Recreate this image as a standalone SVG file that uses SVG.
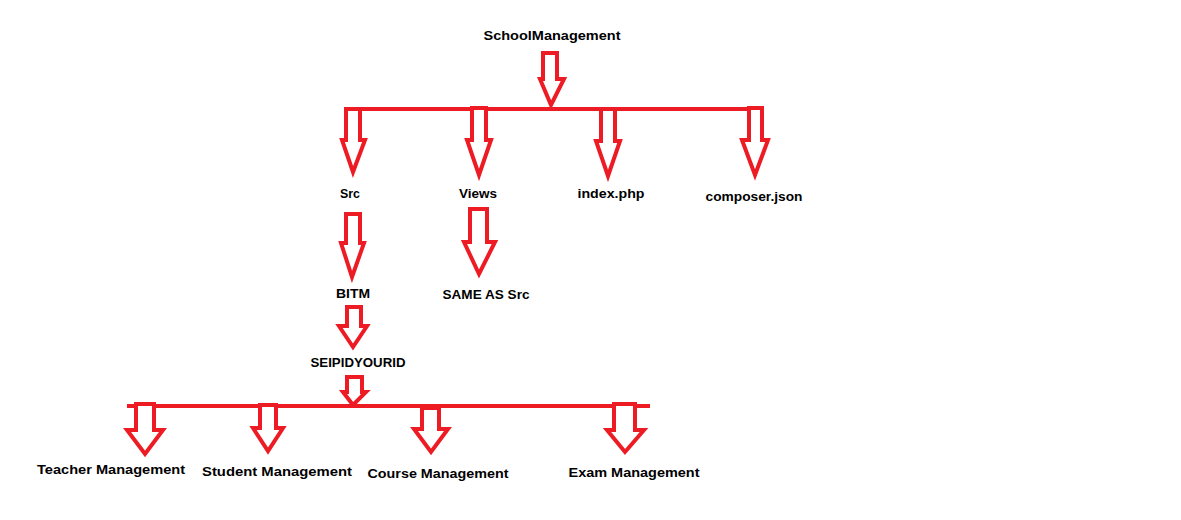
<svg xmlns="http://www.w3.org/2000/svg" width="1181" height="520" viewBox="0 0 1181 520">
<style>
.a{fill:#fff;stroke:#ED1C24;stroke-width:4;stroke-linejoin:miter}
.b{stroke:#ED1C24;stroke-width:4;fill:none}
text{font-family:"Liberation Sans",Arial,sans-serif;font-weight:bold;font-size:13.5px;fill:#000;text-anchor:middle}
</style>
<rect width="1181" height="520" fill="#fff"/>
<g id="connectors">
<line class="b" x1="345" y1="109" x2="762" y2="109"/>
<polygon class="a" points="543,53 557,53 557,79 564,79 551,105 540,79 543,79"/>
<polygon class="a" points="346,109 360,109 360,140 365,140 353,172 342,140 346,140"/>
<polygon class="a" points="472,108 486,108 486,140 491,140 479,175 467,140 472,140"/>
<polygon class="a" points="601,109 615,109 615,141 620,141 608,176 596,141 601,141"/>
<polygon class="a" points="749,108 762,108 762,140 768,140 755,175 742,140 749,140"/>
<polygon class="a" points="346,214 360,214 360,243 364,243 352,277 341,243 346,243"/>
<polygon class="a" points="470,209 487,209 487,242 495,242 479,274 464,242 470,242"/>
<polygon class="a" points="347,307 361,307 361,326 367,326 353,347 339,326 347,326"/>
<line class="b" x1="127" y1="406" x2="650" y2="406"/>
<polygon class="a" points="347,377 362,377 362,392 366,392 353,405 343,392 347,392"/>
<polygon class="a" points="136,404 154,404 154,430 163,430 145,454 127,430 136,430"/>
<polygon class="a" points="260,405 276,405 276,428 283,428 268,451 253,428 260,428"/>
<polygon class="a" points="422,408 439,408 439,429 448,429 431,452 414,429 422,429"/>
<polygon class="a" points="614,404 635,404 635,430 644,430 625,452 607,430 614,430"/>
</g>
<g id="n-school"><text x="552" y="40" textLength="137" lengthAdjust="spacingAndGlyphs">SchoolManagement</text></g>
<g id="n-src"><text x="350" y="198" textLength="20" lengthAdjust="spacingAndGlyphs">Src</text></g>
<g id="n-views"><text x="478" y="198" textLength="38" lengthAdjust="spacingAndGlyphs">Views</text></g>
<g id="n-index"><text x="611" y="198" textLength="67" lengthAdjust="spacingAndGlyphs">index.php</text></g>
<g id="n-composer"><text x="754" y="201" textLength="97" lengthAdjust="spacingAndGlyphs">composer.json</text></g>
<g id="n-bitm"><text x="353" y="298" textLength="34" lengthAdjust="spacingAndGlyphs">BITM</text></g>
<g id="n-same"><text x="486" y="299" textLength="87" lengthAdjust="spacingAndGlyphs">SAME AS Src</text></g>
<g id="n-seip"><text x="358" y="367" textLength="95" lengthAdjust="spacingAndGlyphs">SEIPIDYOURID</text></g>
<g id="n-teacher"><text x="111" y="474" textLength="148" lengthAdjust="spacingAndGlyphs">Teacher Management</text></g>
<g id="n-student"><text x="277" y="476" textLength="150" lengthAdjust="spacingAndGlyphs">Student Management</text></g>
<g id="n-course"><text x="438" y="478" textLength="141" lengthAdjust="spacingAndGlyphs">Course Management</text></g>
<g id="n-exam"><text x="634" y="477" textLength="131" lengthAdjust="spacingAndGlyphs">Exam Management</text></g>
</svg>
